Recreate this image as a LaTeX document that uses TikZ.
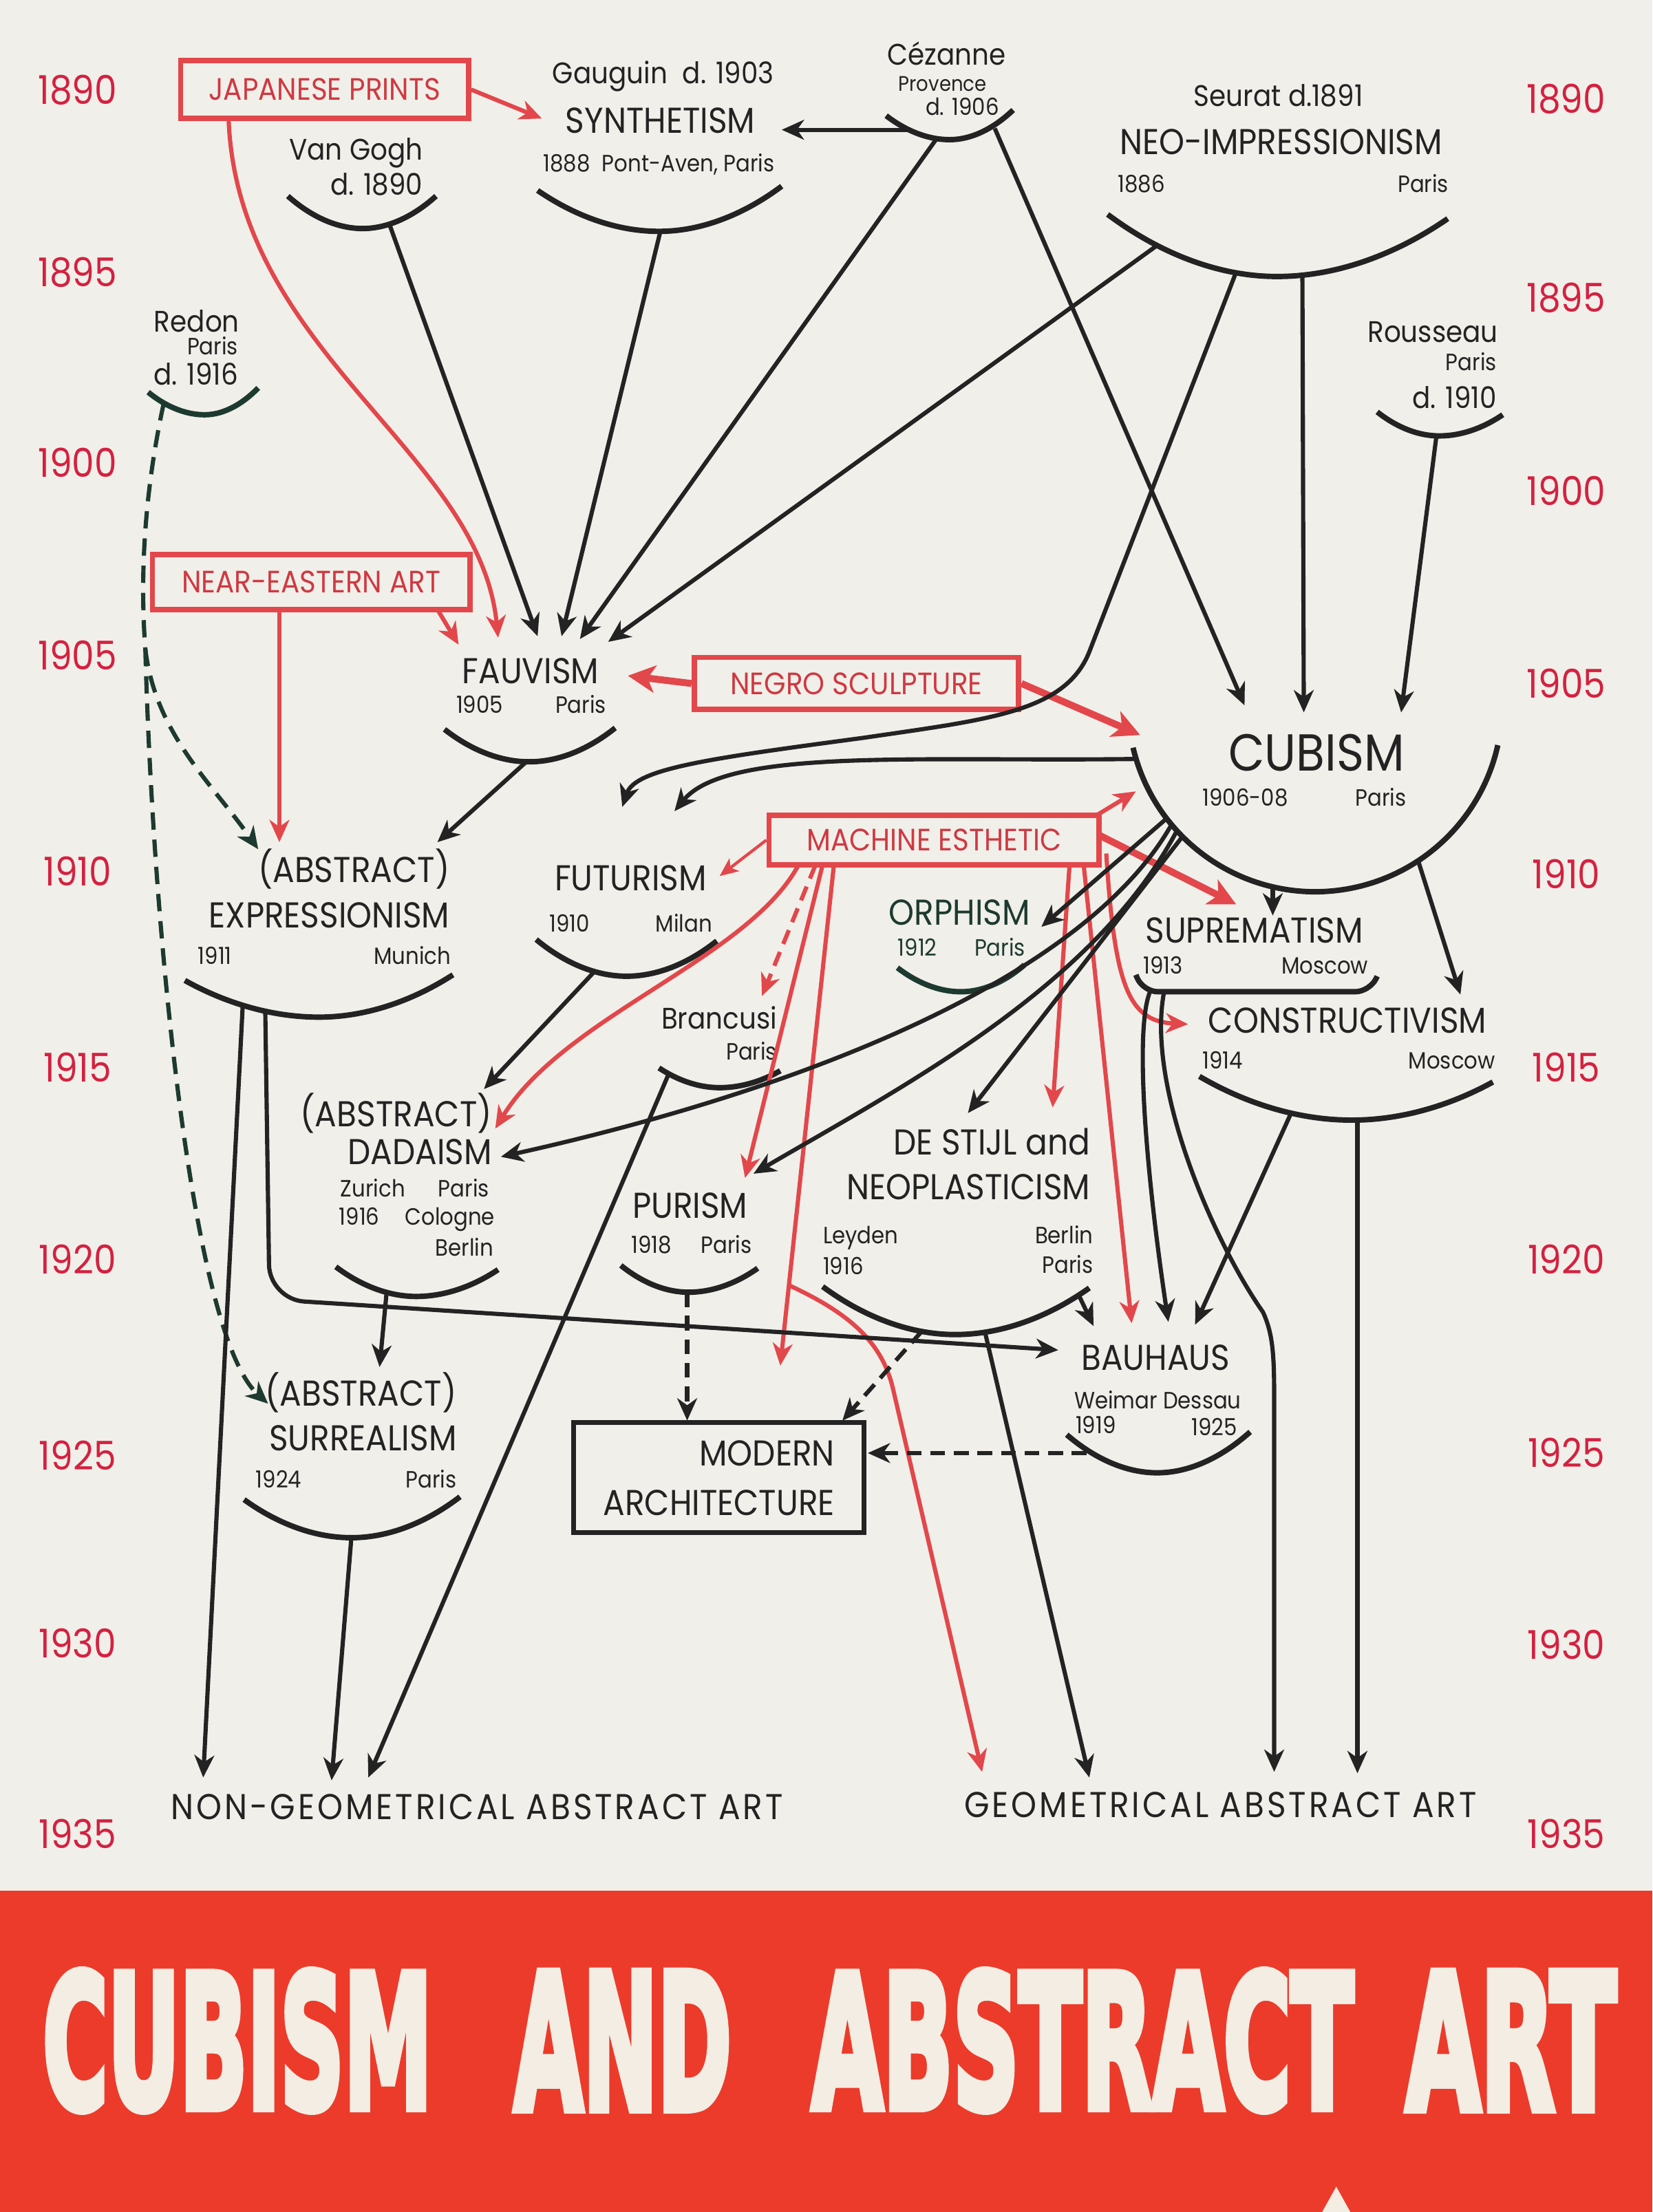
\documentclass[tikz,border=0pt]{standalone}
\usepackage{fontspec}
\usepackage{graphicx}
\setmainfont{Poppins}[FakeStretch=0.9]
\newfontfamily\titlefont{DejaVu Sans}[UprightFont={* Bold},FakeBold=5]
\usetikzlibrary{arrows.meta}
\definecolor{paper}{HTML}{F1EFE9}
\definecolor{ink}{HTML}{232323}
\definecolor{inkgreen}{HTML}{1D3A30}
\definecolor{redline}{HTML}{E2474B}
\definecolor{redtext}{HTML}{CF3942}
\definecolor{yearred}{HTML}{D42140}
\definecolor{banner}{HTML}{EC3B2B}
\definecolor{titlewhite}{HTML}{F3EDE3}
\tikzset{
    movement/.style={font=\fontsize{14.5}{17}\selectfont, text=ink, inner sep=0pt},
    bigmove/.style={font=\fontsize{21}{24}\selectfont, text=ink, inner sep=0pt},
    finale/.style={font=\fontsize{14.5}{17}\selectfont\addfontfeature{LetterSpace=7.5}, text=ink, inner sep=0pt},
    artist/.style={font=\fontsize{12}{14}\selectfont, text=ink, inner sep=0pt},
    place/.style={font=\fontsize{9.5}{11}\selectfont, text=ink, inner sep=0pt},
    year/.style={font=\fontsize{16}{18}\selectfont, text=yearred, inner sep=0pt, anchor=base},
    redbox/.style={draw=redline, line width=2.2pt, text=redtext, font=\fontsize{12.5}{14}\selectfont, inner sep=0pt},
    archbox/.style={draw=ink, line width=2pt, text=ink, font=\fontsize{14.5}{20}\selectfont, align=right, inner sep=0pt},
    cupline/.style={draw=ink, line width=2.2pt},
    arr/.style={draw=ink, line width=1.7pt, -{Stealth[length=9pt, width=8pt, inset=2.8pt]}},
    redarr/.style={draw=redline, line width=1.7pt, -{Stealth[length=9pt, width=8pt, inset=2.8pt]}},
    fatred/.style={draw=redline, line width=2.8pt, -{Stealth[length=11pt, width=11pt, inset=3pt]}},
    thinred/.style={draw=redline, line width=1.2pt, -{Stealth[length=7.5pt, width=6.5pt, inset=2pt]}},
    dasharr/.style={arr, dash pattern=on 6pt off 3.5pt},
    reddash/.style={redarr, dash pattern=on 6pt off 3.5pt},
    greendash/.style={arr, draw=inkgreen, dash pattern=on 7pt off 4pt},
    titleword/.style={text=titlewhite, inner sep=0pt, anchor=west, font=\titlefont}
}

\begin{document}
\begin{tikzpicture}[x=0.02cm, y=-0.02cm]
\useasboundingbox (0,0) rectangle (1171,1568);
\fill[paper] (0,0) rectangle (1171,1340);
\fill[banner] (0,1340) rectangle (1171,1568);

% time scale
\foreach \yr/\yl/\yrr in {1890/74/80, 1895/203/221, 1900/338/358, 1905/475/495, 1910/628/630,
    1915/767/767, 1920/903/903, 1925/1042/1040, 1930/1175/1176, 1935/1310/1310} {
  \node[year] (yl\yr) at (55,\yl) {\yr};
  \node[year] (yr\yr) at (1110,\yrr) {\yr};
}

% outside influences
\node[redbox, minimum width=4.08cm, minimum height=0.82cm] (jap) at (230,63.5) {JAPANESE PRINTS};
\node[redbox, minimum width=4.5cm, minimum height=0.78cm] (near) at (220.5,412.5) {NEAR-EASTERN ART};
\node[redbox, minimum width=4.6cm, minimum height=0.74cm] (negro) at (607,484.5) {NEGRO SCULPTURE};
\node[redbox, minimum width=4.68cm, minimum height=0.7cm] (mach) at (662,595.5) {MACHINE ESTHETIC};
\node[archbox, minimum width=4.12cm, minimum height=1.56cm] (arch) at (509.5,1047.5) {MODERN\\ARCHITECTURE};

% 1880s and 1890s
\node[artist, anchor=base] (gauguin) at (470,59.5) {Gauguin\enspace d. 1903};
\node[movement, anchor=base] (synth) at (468,94.5) {SYNTHETISM};
\node[place, anchor=base] (synth-p) at (467,121.5) {1888\enspace Pont-Aven, Paris};
\node[artist, anchor=base] (cezanne) at (671,46) {Cézanne};
\node[place, anchor=base, font=\fontsize{8.5}{10}\selectfont] (cez-p) at (668,64.5) {Provence};
\node[place, anchor=base] (cez-d) at (682,81.5) {d. 1906};
\node[artist, anchor=base] (seurat) at (906,75.5) {Seurat d.1891};
\node[movement, anchor=base] (neoimp) at (908,109.5) {NEO-IMPRESSIONISM};
\node[place, anchor=base west] (neoimp-y) at (792,136.5) {1886};
\node[place, anchor=base east] (neoimp-p) at (1027,136.5) {Paris};
\node[artist, anchor=base east] (vangogh) at (300,113.5) {Van Gogh};
\node[artist, anchor=base east] (vangogh-d) at (300,138.5) {d. 1890};
\node[artist, anchor=base east] (redon) at (170,235.5) {Redon};
\node[place, anchor=base east] (redon-p) at (169,251.5) {Paris};
\node[artist, anchor=base east] (redon-d) at (169,273) {d. 1916};
\node[artist, anchor=base east] (rousseau) at (1062,242.5) {Rousseau};
\node[place, anchor=base east] (rousseau-p) at (1061,262.5) {Paris};
\node[artist, anchor=base east] (rousseau-d) at (1061,289.5) {d. 1910};

% 1905 to 1914
\node[movement, anchor=base] (fauv) at (376,484.5) {FAUVISM};
\node[place, anchor=base west] (fauv-y) at (323,505.5) {1905};
\node[place, anchor=base east] (fauv-p) at (430,505.5) {Paris};
\node[bigmove, anchor=base] (cub) at (933,546.5) {CUBISM};
\node[place, anchor=base west] (cub-y) at (852,571.5) {1906-08};
\node[place, anchor=base east] (cub-p) at (997,571.5) {Paris};
\node[movement, anchor=base east] (expr-a) at (319,625.5) {(ABSTRACT)};
\node[movement, anchor=base east] (expr) at (319,657.5) {EXPRESSIONISM};
\node[place, anchor=base west] (expr-y) at (140,683.5) {1911};
\node[place, anchor=base east] (expr-p) at (320,683.5) {Munich};
\node[movement, anchor=base] (fut) at (447,631.5) {FUTURISM};
\node[place, anchor=base west] (fut-y) at (389,660.5) {1910};
\node[place, anchor=base east] (fut-p) at (505,660.5) {Milan};
\node[movement, anchor=base, text=inkgreen] (orph) at (680,655.5) {ORPHISM};
\node[place, anchor=base west, text=inkgreen] (orph-y) at (636,677.5) {1912};
\node[place, anchor=base east, text=inkgreen] (orph-p) at (727,677.5) {Paris};
\node[movement, anchor=base] (supr) at (889,668.5) {SUPREMATISM};
\node[place, anchor=base west] (supr-y) at (810,690.5) {1913};
\node[place, anchor=base east] (supr-p) at (970,690.5) {Moscow};
\node[movement, anchor=base] (constr) at (955,732.5) {CONSTRUCTIVISM};
\node[place, anchor=base west] (constr-y) at (852,757.5) {1914};
\node[place, anchor=base east] (constr-p) at (1060,757.5) {Moscow};
\node[artist, anchor=base east] (brancusi) at (551,729.5) {Brancusi};
\node[place, anchor=base east] (brancusi-p) at (551,751.5) {Paris};

% 1915 to 1925
\node[movement, anchor=base east] (dada-a) at (349,798.5) {(ABSTRACT)};
\node[movement, anchor=base east] (dada) at (349,825.5) {DADAISM};
\node[place, anchor=base west] (dada-z) at (241,848.5) {Zurich};
\node[place, anchor=base east] (dada-p) at (347,848.5) {Paris};
\node[place, anchor=base west] (dada-y) at (240,868.5) {1916};
\node[place, anchor=base east] (dada-c) at (351,868.5) {Cologne};
\node[place, anchor=base east] (dada-b) at (350,890.5) {Berlin};
\node[movement, anchor=base] (pur) at (489,863.5) {PURISM};
\node[place, anchor=base west] (pur-y) at (447,888.5) {1918};
\node[place, anchor=base east] (pur-p) at (533,888.5) {Paris};
\node[movement, anchor=base east] (stijl) at (773,818.5) {DE STIJL and};
\node[movement, anchor=base east] (neopl) at (773,850.5) {NEOPLASTICISM};
\node[place, anchor=base west] (stijl-l) at (583,881.5) {Leyden};
\node[place, anchor=base west] (stijl-y) at (583,903.5) {1916};
\node[place, anchor=base east] (stijl-b) at (775,881.5) {Berlin};
\node[place, anchor=base east] (stijl-p) at (775,902.5) {Paris};
\node[movement, anchor=base] (bau) at (819,971.5) {BAUHAUS};
\node[place, anchor=base west] (bau-w) at (761,998.5) {Weimar};
\node[place, anchor=base east] (bau-d) at (880,998.5) {Dessau};
\node[place, anchor=base west] (bau-y1) at (762,1016) {1919};
\node[place, anchor=base east] (bau-y2) at (877,1017.5) {1925};
\node[movement, anchor=base east] (surr-a) at (324,996.5) {(ABSTRACT)};
\node[movement, anchor=base east] (surr) at (324,1028.5) {SURREALISM};
\node[place, anchor=base west] (surr-y) at (181,1054.5) {1924};
\node[place, anchor=base east] (surr-p) at (324,1054.5) {Paris};

% 1935
\node[finale, anchor=base] (nongeo) at (338,1289.5) {NON-GEOMETRICAL ABSTRACT ART};
\node[finale, anchor=base] (geo) at (865,1288.5) {GEOMETRICAL ABSTRACT ART};

% cups
\draw[cupline] (204,139) parabola bend (257,162) (309,139);
\draw[cupline] (381,135) parabola bend (467,164) (554,132);
\draw[cupline] (628,82) parabola bend (673,99) (718,78);
\draw[cupline] (785,152) parabola bend (905,196) (1026,155);
\draw[cupline, draw=inkgreen] (105,278) parabola bend (145,294) (183,275);
\draw[cupline] (976,292) parabola bend (1020,309) (1065,294);
\draw[cupline] (315,517) parabola bend (375,540) (436,516);
\draw[cupline] (803,530) arc[start angle=166.7, end angle=12.5, radius=132.6];
\draw[cupline] (131,695) parabola bend (226,721) (321,691);
\draw[cupline] (380,666) parabola bend (444,692) (508,667);
\draw[cupline, draw=inkgreen] (636,686) parabola bend (681,703) (726,684);
\draw[cupline, rounded corners=6pt] (805,691) -- (810,703) -- (971,703) -- (976,692);
\draw[cupline] (850,763) parabola bend (958,794) (1058,767);
\draw[cupline] (467,757) parabola bend (510,771) (553,759);
\draw[cupline] (238,898) parabola bend (295,919) (353,900);
\draw[cupline] (440,897) parabola bend (488,916) (537,899);
\draw[cupline] (583,912) parabola bend (677,946) (772,913);
\draw[cupline] (756,1017) parabola bend (820,1044) (886,1015);
\draw[cupline] (173,1063) parabola bend (249,1090) (326,1061);

% where the lines leave
\foreach \n/\x/\y in {cez-w/645/92, cez-a/664/98, cez-b/705/91, vgo-a/276/159, gau-a/468/164,
    seu-a/820/174, seu-b/876/193, seu-c/923/195, rou-a/1018/309,
    red-a/116/286, red-fork/103/460, jap-b/162/84, near-s/198/432, near-e/310/432,
    fau-a/373/540, fut-a/421/689, bra-a/474/761, exp-a/172/713, exp-b/188/717,
    dad-a/274/916, sur-a/249/1090, pur-a/487/916,
    des-a/653/944, des-b/698/944, des-c/764/917, bau-a/770/1030,
    cub-w/805/538, cub-s1/827/580, cub-s2/838/593, cub-s3/834/589, cub-s4/830/585,
    cub-b/902/629, cub-e/1005/610, sup-a/815/703, sup-b/825/703,
    con-a/915/789, con-b/962/794,
    me-ne/777/578, me-e/779/592, me-1/566/613, me-2/578/613, me-3/583/613,
    me-4/591/613, me-fork/559/911, me-5/758/613, me-6/768/613, me-7/784/605}
  \coordinate (\n) at (\x,\y);

% where the lines arrive
\foreach \n/\x/\y in {syn-in/554/92, syn-in2/384/84,
    fau-in0/325/457, fau-in1/353/452, fau-in2/381/451, fau-in3/398/451, fau-in4/411/453,
    fau-in5/431/455, fau-in6/445/479,
    cub-in1/882/500, cub-in2/924/505, cub-in3/993/505, cub-in4/808/521, cub-in5/805/561,
    exp-in1/183/602, exp-in2/198/597, exp-in3/310/597,
    fut-in1/441/572, fut-in2/478/575, fut-in3/510/621,
    dad-in1/343/772, dad-in2/351/800, dad-in3/355/820,
    bra-in/540/706, orp-in/738/657, sup-in1/876/641, sup-in2/902/649,
    con-in1/842/726, con-in2/1035/705, pur-in1/528/835, pur-in2/534/832,
    des-in1/746/785, des-in2/686/789,
    bau-in1/802/938, bau-in2/828/937, bau-in3/847/939, bau-in4/750/957, bau-in5/775/940,
    sur-in1/190/995, sur-in2/269/969,
    arch-in1/487/1007, arch-in2/597/1007, arch-in3/615/1030, red-tip/553/968,
    ng-in1/144/1260, ng-in2/235/1262, ng-in3/261/1260,
    g-in1/696/1256, g-in2/772/1260, g-in3/903/1256, g-in4/962/1257}
  \coordinate (\n) at (\x,\y);

% red influences
\draw[redarr] (jap.east) -- (syn-in2);
\draw[redarr] (jap-b) .. controls (168,250) and (340,320) .. (fau-in1);
\draw[redarr] (near-e) -- (fau-in0);
\draw[redarr] (near-s) -- (exp-in2);
\draw[fatred] (negro.west) -- (fau-in6);
\draw[fatred] (negro.east) -- (cub-in4);
\draw[thinred] (mach.west) -- (fut-in3);
\draw[redarr] (me-ne) -- (cub-in5);
\draw[fatred] (me-e) -- (sup-in1);
\draw[redarr] (me-1) .. controls (530,680) and (400,720) .. (dad-in2);
\draw[reddash] (me-2) -- (bra-in);
\draw[redarr] (me-3) -- (pur-in1);
\draw[redarr] (me-4) -- (red-tip);
\draw[redarr] (me-fork) .. controls (600,930) and (625,950) .. (633,985) -- (g-in1);
\draw[redarr] (me-5) -- (des-in1);
\draw[redarr] (me-6) -- (bau-in1);
\draw[redarr] (me-7) .. controls (790,700) and (800,724) .. (con-in1);

% Redon
\draw[greendash, -] (red-a) .. controls (100,360) and (100,420) .. (red-fork);
\draw[greendash] (red-fork) .. controls (110,520) and (150,555) .. (exp-in1);
\draw[greendash] (red-fork) .. controls (108,650) and (135,945) .. (sur-in1);

% into fauvism, synthetism and cubism
\draw[arr] (cez-w) -- (syn-in);
\draw[arr] (vgo-a) -- (fau-in2);
\draw[arr] (gau-a) -- (fau-in3);
\draw[arr] (cez-a) -- (fau-in4);
\draw[arr] (seu-a) -- (fau-in5);
\draw[arr] (cez-b) -- (cub-in1);
\draw[arr] (seu-c) -- (cub-in2);
\draw[arr] (rou-a) -- (cub-in3);
\draw[arr] (seu-b) -- (772,462) .. controls (755,505) and (700,510) .. (612,523)
    .. controls (500,538) and (450,545) .. (fut-in1);
\draw[arr] (cub-w) .. controls (650,540) and (515,530) .. (fut-in2);
\draw[arr] (fau-a) -- (exp-in3);
\draw[arr] (fut-a) -- (dad-in1);

% out of cubism
\draw[arr] (cub-s1) -- (orp-in);
\draw[arr] (cub-s2) -- (des-in2);
\draw[arr] (cub-s3) .. controls (775,700) and (640,770) .. (pur-in2);
\draw[arr] (cub-s4) .. controls (770,690) and (580,770) .. (dad-in3);
\draw[arr] (cub-b) -- (sup-in2);
\draw[arr] (cub-e) -- (con-in2);

% russians
\draw[arr] (sup-a) .. controls (804,730) and (812,830) .. (bau-in2);
\draw[arr] (sup-b) .. controls (812,770) and (860,880) .. (895,930)
    .. controls (902,945) and (903,960) .. (903,990) -- (g-in3);
\draw[arr] (con-a) -- (bau-in3);
\draw[arr] (con-b) -- (g-in4);

% later lines
\draw[arr] (exp-a) -- (ng-in1);
\draw[arr, rounded corners=14pt] (exp-b) -- (191,921) -- (bau-in4);
\draw[arr] (dad-a) -- (sur-in2);
\draw[arr] (bra-a) -- (ng-in3);
\draw[arr] (sur-a) -- (ng-in2);
\draw[dasharr] (pur-a) -- (arch-in1);
\draw[dasharr] (des-a) -- (arch-in2);
\draw[arr] (des-c) -- (bau-in5);
\draw[arr] (des-b) -- (g-in2);
\draw[dasharr] (bau-a) -- (arch-in3);

% title
\node[titleword] (t-cubism) at (30,1446.5) {\resizebox{5.52cm}{1.94cm}{CUBISM}};
\node[titleword] (t-and) at (364,1446.5) {\resizebox{3.08cm}{1.94cm}{AND}};
\node[titleword] (t-abstract) at (575,1446.5) {\resizebox{7.68cm}{1.94cm}{ABSTRACT}};
\node[titleword] (t-art) at (996,1446.5) {\resizebox{2.98cm}{1.94cm}{ART}};
\fill[titlewhite] (937,1568) -- (947,1550) -- (957,1568) -- cycle;
\end{tikzpicture}
\end{document}
